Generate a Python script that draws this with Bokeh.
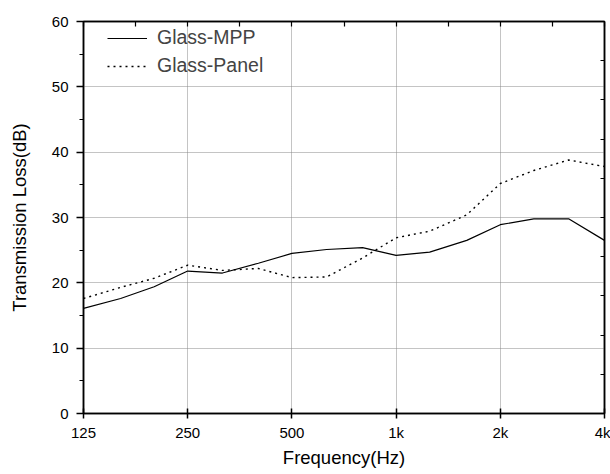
from bokeh.plotting import figure
from bokeh.models import FixedTicker, LinearAxis, LogAxis, Legend, LegendItem, Range1d, CustomJSTickFormatter
from bokeh.embed import file_html
from bokeh.resources import INLINE

freqs = [125, 160, 200, 250, 315, 400, 500, 630, 800, 1000, 1250, 1600, 2000, 2500, 3150, 4000]
glass_mpp = [16.1, 17.6, 19.4, 21.8, 21.5, 23.0, 24.5, 25.1, 25.4, 24.2, 24.7, 26.5, 28.9, 29.8, 29.8, 26.5]
glass_panel = [17.6, 19.3, 20.7, 22.7, 21.9, 22.2, 20.8, 20.9, 23.8, 26.9, 27.9, 30.4, 35.2, 37.2, 38.8, 37.8]
x_ticks = [125, 250, 500, 1000, 2000, 4000]
x_tick_labels = ["125", "250", "500", "1k", "2k", "4k"]
y_ticks = [0, 10, 20, 30, 40, 50, 60]

FONT = "Liberation Sans"

p = figure(width=610, height=474, x_axis_type="log", output_backend="svg",
           toolbar_location=None, x_range=Range1d(125, 4000), y_range=Range1d(0, 60),
           min_border_left=83, min_border_right=6, min_border_top=21, min_border_bottom=61)

r1 = p.line(freqs, glass_mpp, line_color="black", line_width=1.2)
r2 = p.line(freqs, glass_panel, line_color="black", line_width=1.4, line_dash="2 4")

# axes styling
xa = p.xaxis[0]
xa.ticker = FixedTicker(ticks=x_ticks, minor_ticks=[])
xa.major_label_overrides = {t: l for t, l in zip(x_ticks, x_tick_labels)}
xa.axis_label = "Frequency(Hz)"
ya = p.yaxis[0]
ya.ticker = FixedTicker(ticks=y_ticks, minor_ticks=[5, 15, 25, 35, 45, 55])
ya.axis_label = "Transmission Loss(dB)"

for ax in (xa, ya):
    ax.axis_line_width = 1.5
    ax.axis_line_color = "black"
    ax.major_tick_line_width = 1.5
    ax.minor_tick_line_width = 1.2
    ax.major_label_text_font = FONT
    ax.major_label_text_font_size = "15px"
    ax.major_label_text_color = "black"
    ax.axis_label_text_font = FONT
    ax.axis_label_text_font_size = "18.5px"
    ax.axis_label_text_font_style = "normal"
    ax.axis_label_text_color = "black"

xa.major_tick_in = 5
xa.major_tick_out = 5
xa.major_label_standoff = 5
xa.axis_label_standoff = 3
ya.major_tick_in = 0
ya.major_tick_out = 7
ya.minor_tick_in = 0
ya.minor_tick_out = 4
ya.major_label_standoff = 8
ya.axis_label_standoff = 19

blank = CustomJSTickFormatter(code="return '';")
# top axis with inward ticks
top = LogAxis(ticker=FixedTicker(ticks=[125 * (2 ** (k / 2)) for k in range(11)], minor_ticks=[]),
              formatter=blank, axis_line_width=1.5,
              major_tick_in=5, major_tick_out=0, major_tick_line_width=1.2)
p.add_layout(top, "above")
right = LinearAxis(ticker=FixedTicker(ticks=list(range(0, 61, 6)), minor_ticks=[]),
                   formatter=blank, axis_line_width=1.5,
                   major_tick_in=4, major_tick_out=0, major_tick_line_width=1.2)
p.add_layout(right, "right")

for g in (p.xgrid[0], p.ygrid[0]):
    g.grid_line_color = "#888888"
    g.grid_line_dash = "1 1"
    g.grid_line_width = 1
p.xgrid[0].ticker = FixedTicker(ticks=x_ticks)
p.ygrid[0].ticker = FixedTicker(ticks=y_ticks)

p.outline_line_color = "black"
p.outline_line_width = 1.5

legend = Legend(items=[LegendItem(label="Glass-MPP", renderers=[r1]),
                       LegendItem(label="Glass-Panel", renderers=[r2])],
                location=(24, 336), glyph_width=40, glyph_height=20, label_height=20,
                spacing=5, padding=0, margin=0, label_standoff=10,
                label_text_font=FONT, label_text_font_size="19.5px",
                border_line_color=None, background_fill_alpha=0)
p.add_layout(legend, "center")

open("out.html", "w").write(file_html(p, INLINE))
